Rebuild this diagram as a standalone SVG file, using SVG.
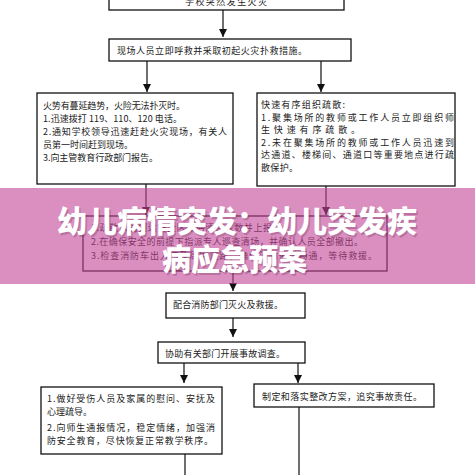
<svg xmlns="http://www.w3.org/2000/svg" width="475" height="475" viewBox="0 0 475 475">
<defs>
<style>
.box{fill:#fff;stroke:#111;stroke-width:1.3}
.t{font-family:"Noto Sans CJK SC","Noto Sans",sans-serif;font-size:9px;fill:#222}
.ln{stroke:#222;stroke-width:1.3;fill:none}
.ttl{font-family:"Noto Sans CJK SC",sans-serif;font-size:30px;font-weight:900;fill:#fff}
.sh{font-family:"Noto Sans CJK SC",sans-serif;font-size:30px;font-weight:900;fill:#5a1a45;opacity:0.25}
</style>
<marker id="ah" viewBox="0 0 10 10" refX="10" refY="5" markerWidth="8" markerHeight="8" markerUnits="userSpaceOnUse" orient="auto">
<path d="M0,0 L10,5 L0,10 Z" fill="#111"/>
</marker>
</defs>
<rect width="475" height="475" fill="#fff"/>

<g id="connectors">
<line class="ln" x1="223" y1="10" x2="223" y2="37" marker-end="url(#ah)"/>
<line class="ln" x1="147" y1="61" x2="147" y2="92" marker-end="url(#ah)"/>
<line class="ln" x1="321" y1="61" x2="321" y2="92" marker-end="url(#ah)"/>
<line class="ln" x1="146" y1="184" x2="146" y2="215" marker-end="url(#ah)"/>
<line class="ln" x1="326" y1="186" x2="326" y2="215" marker-end="url(#ah)"/>
<line class="ln" x1="233" y1="271" x2="233" y2="291" marker-end="url(#ah)"/>
<line class="ln" x1="233" y1="318" x2="233" y2="337" marker-end="url(#ah)"/>
<line class="ln" x1="184" y1="363" x2="184" y2="383" marker-end="url(#ah)"/>
<line class="ln" x1="298" y1="363" x2="298" y2="383" marker-end="url(#ah)"/>
<line class="ln" x1="185" y1="454" x2="185" y2="475"/>
<line class="ln" x1="299" y1="407" x2="299" y2="475"/>
</g>

<g id="n-start">
<rect class="box" x="109" y="-10" width="235" height="20"/>
<text class="t" x="185" y="4.5" textLength="82" lengthAdjust="spacing">学校突然发生火灾</text>
</g>

<g id="n-rescue">
<rect class="box" x="109" y="39" width="242" height="22"/>
<text class="t" x="117" y="53.5" textLength="190" lengthAdjust="spacing">现场人员立即呼救并采取初起火灾扑救措施。</text>
</g>

<g id="n-fire">
<rect class="box" x="37" y="93" width="196" height="91"/>
<text class="t" x="43" y="108.5" textLength="142" lengthAdjust="spacing">火势有蔓延趋势，火险无法扑灭时。</text>
<text class="t" x="43" y="121.7" textLength="139" lengthAdjust="spacing">1.迅速拨打 119、110、120 电话。</text>
<text class="t" x="43" y="134.9" textLength="184" lengthAdjust="spacing">2.通知学校领导迅速赶赴火灾现场，有关人</text>
<text class="t" x="43" y="148.1" textLength="90" lengthAdjust="spacing">员第一时间赶到现场。</text>
<text class="t" x="43" y="161.3" textLength="115" lengthAdjust="spacing">3.向主管教育行政部门报告。</text>
</g>

<g id="n-evac">
<rect class="box" x="257" y="93" width="198" height="93"/>
<text class="t" x="261" y="108" textLength="84" lengthAdjust="spacing">快速有序组织疏散:</text>
<text class="t" x="261" y="120.5" textLength="193" lengthAdjust="spacing">1.聚集场所的教师或工作人员立即组织师</text>
<text class="t" x="261" y="133" textLength="99" lengthAdjust="spacing">生快速有序疏散。</text>
<text class="t" x="261" y="145.5" textLength="193" lengthAdjust="spacing">2.未在聚集场所的教师或工作人员迅速到</text>
<text class="t" x="261" y="158" textLength="193" lengthAdjust="spacing">达通道、楼梯间、通道口等重要地点进行疏</text>
<text class="t" x="261" y="170.5" textLength="37" lengthAdjust="spacing">散保护。</text>
</g>

<g id="n-count">
<rect class="box" x="83" y="216" width="304" height="55"/>
<text class="t" x="91" y="231" textLength="181" lengthAdjust="spacing">1.疏散人员到达安全区域后清点人数并上报</text>
<text class="t" x="91" y="245" textLength="272" lengthAdjust="spacing">2.在确保安全的前提下指派专人巡查清场，并确认人员全部撤出。</text>
<text class="t" x="91" y="259" textLength="286" lengthAdjust="spacing">3.检查消防车出入口及周围道路，确保消防通道畅通，等待救援。</text>
</g>

<g id="n-cooperate">
<rect class="box" x="166" y="293" width="139" height="25"/>
<text class="t" x="173" y="307.5" textLength="110" lengthAdjust="spacing">配合消防部门灭火及救援。</text>
</g>

<g id="n-investigate">
<rect class="box" x="158" y="342" width="147" height="21"/>
<text class="t" x="165" y="356.5" textLength="120" lengthAdjust="spacing">协助有关部门开展事故调查。</text>
</g>

<g id="n-comfort">
<rect class="box" x="41" y="387" width="181" height="67"/>
<text class="t" x="47" y="402" textLength="168" lengthAdjust="spacing">1.做好受伤人员及家属的慰问、安抚及</text>
<text class="t" x="47" y="414.5">心理疏导。</text>
<text class="t" x="47" y="430.5" textLength="168" lengthAdjust="spacing">2.向师生通报情况，稳定情绪，加强消</text>
<text class="t" x="47" y="443.5" textLength="166" lengthAdjust="spacing">防安全教育，尽快恢复正常教学秩序。</text>
</g>

<g id="n-rectify">
<rect class="box" x="254" y="384" width="180" height="23"/>
<text class="t" x="262" y="399.5" textLength="160" lengthAdjust="spacing">制定和落实整改方案，追究事故责任。</text>
</g>

<g id="banner">
<rect x="0" y="188" width="475" height="96" fill="#c24596" fill-opacity="0.6"/>
<text class="sh" x="58.5" y="233.5" textLength="360" lengthAdjust="spacingAndGlyphs">幼儿病情突发：幼儿突发疾</text>
<text class="sh" x="163.5" y="271.5" textLength="145" lengthAdjust="spacingAndGlyphs">病应急预案</text>
<text class="ttl" x="57" y="232" textLength="360" lengthAdjust="spacingAndGlyphs">幼儿病情突发：幼儿突发疾</text>
<text class="ttl" x="162" y="270" textLength="145" lengthAdjust="spacingAndGlyphs">病应急预案</text>
</g>
</svg>
